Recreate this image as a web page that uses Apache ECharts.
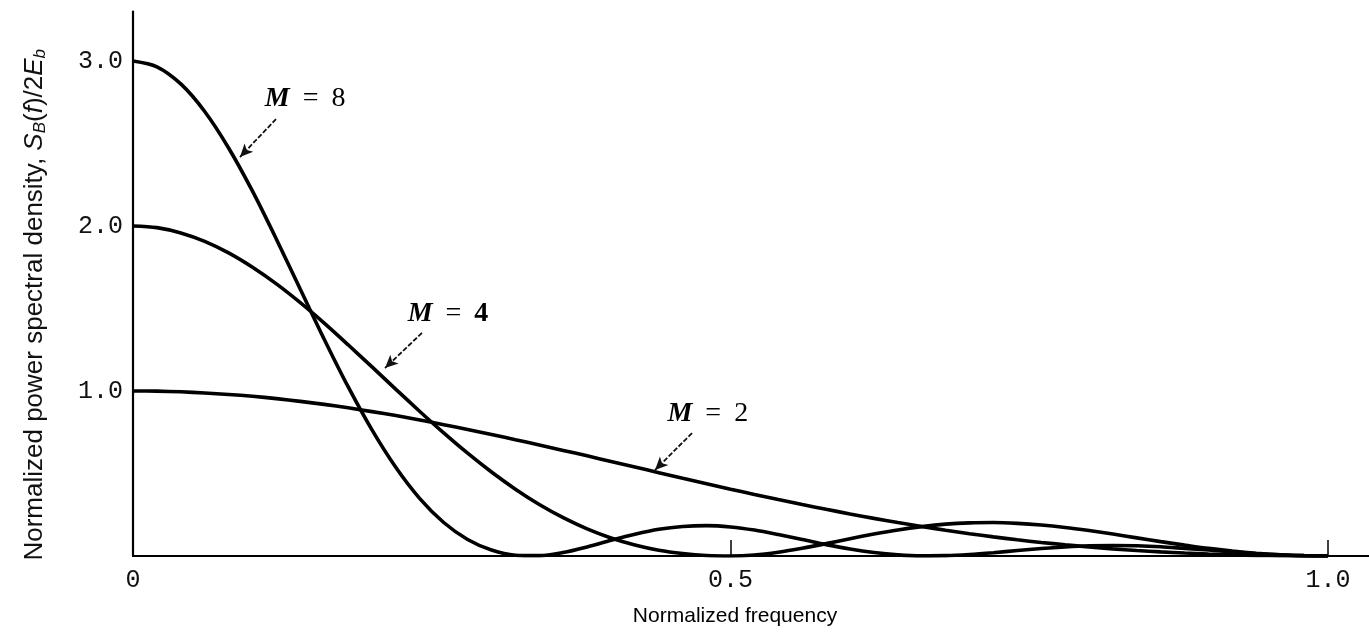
<!DOCTYPE html>
<html>
<head>
<meta charset="utf-8">
<script src="https://cdn.jsdelivr.net/npm/echarts@6/dist/echarts.min.js"></script>
<style>
  html, body { margin: 0; padding: 0; background: #fff; }
  #chart { width: 1369px; height: 635px; }
</style>
</head>
<body>
<div id="chart"></div>
<script>
// Normalized frequency samples
const freq = [0,0.02,0.04,0.06,0.08,0.10,0.12,0.14,0.16,0.18,0.20,0.22,0.24,0.26,0.28,0.30,0.32,0.34,0.36,0.38,0.40,0.42,0.44,0.46,0.48,0.50,0.52,0.54,0.56,0.58,0.60,0.62,0.64,0.66,0.68,0.70,0.72,0.74,0.76,0.78,0.80,0.82,0.84,0.86,0.88,0.90,0.92,0.94,0.96,0.98,1.00];

// M = 2
const psdM2 = [1.000,0.999,0.995,0.988,0.979,0.968,0.954,0.937,0.919,0.898,0.875,0.851,0.824,0.796,0.767,0.737,0.705,0.673,0.640,0.607,0.573,0.539,0.505,0.471,0.438,0.405,0.373,0.342,0.312,0.283,0.255,0.228,0.203,0.179,0.156,0.135,0.116,0.098,0.082,0.068,0.055,0.043,0.033,0.025,0.018,0.012,0.007,0.004,0.002,0.0004,0];

// M = 4
const psdM4 = [2.000,1.990,1.958,1.907,1.837,1.750,1.649,1.535,1.411,1.280,1.146,1.010,0.876,0.746,0.623,0.509,0.405,0.312,0.232,0.164,0.109,0.067,0.035,0.015,0.003,0.000,0.006,0.023,0.047,0.075,0.105,0.133,0.158,0.178,0.193,0.201,0.203,0.198,0.188,0.173,0.154,0.133,0.110,0.087,0.066,0.046,0.030,0.017,0.007,0.002,0];

// M = 8
const psdM8 = [3.000,2.965,2.861,2.694,2.473,2.211,1.920,1.617,1.314,1.026,0.764,0.536,0.348,0.203,0.100,0.036,0.005,0.002,0.021,0.055,0.095,0.132,0.162,0.179,0.184,0.176,0.157,0.130,0.100,0.069,0.042,0.021,0.007,0.001,0.002,0.009,0.020,0.033,0.045,0.055,0.062,0.064,0.062,0.056,0.046,0.036,0.024,0.014,0.007,0.002,0];

// Tick labels
const xTickLabels = { '0': '0', '0.5': '0.5', '1': '1.0' };
const yTickLabels = { '1': '1.0', '2': '2.0', '3': '3.0' };

// Curve labels: [label number, label position (x,y), arrow start (x,y), arrow tip (x,y)] in data units
const curveNotes = [
  ['8', [0.144, 2.77], [0.1197, 2.648], [0.0895, 2.418]],
  ['4', [0.2636, 1.467], [0.2418, 1.352], [0.2109, 1.139]],
  ['2', [0.481, 0.861], [0.4678, 0.745], [0.4368, 0.521]]
];

const pairs = arr => freq.map((f, i) => [f, arr[i]]);

const chart = echarts.init(document.getElementById('chart'), null, { renderer: 'canvas' });

const lineStyle = { color: '#000', width: 3.6 };

const noteRich = {
  m: { fontFamily: 'Liberation Serif', fontStyle: 'italic', fontWeight: 'bold', fontSize: 28, color: '#000' },
  e: { fontFamily: 'Liberation Serif', fontSize: 28, color: '#000', padding: [0, 13, 0, 13] },
  n: { fontFamily: 'Liberation Serif', fontSize: 28, color: '#000' },
  nb: { fontFamily: 'Liberation Serif', fontWeight: 'bold', fontSize: 28, color: '#000' }
};

const annotationSeries = {
  type: 'line',
  data: [],
  silent: true,
  markLine: {
    silent: true,
    symbol: ['none', 'arrow'],
    symbolSize: [9, 13],
    label: { show: false },
    lineStyle: { color: '#111', width: 1.8, type: [5, 2] },
    data: curveNotes.map(n => [{ coord: n[2] }, { coord: n[3] }])
  },
  markPoint: {
    silent: true,
    symbol: 'circle',
    symbolSize: 0,
    label: {
      show: true,
      position: 'inside',
      rich: noteRich
    },
    data: curveNotes.map(n => ({
      coord: n[1],
      label: { formatter: '{m|M}{e|=}' + (n[0] === '4' ? '{nb|' : '{n|') + n[0] + '}' }
    }))
  }
};

chart.setOption({
  animation: false,
  backgroundColor: '#fff',
  grid: { left: 133, right: 0, top: 11.5, bottom: 79, containLabel: false },
  xAxis: {
    type: 'value',
    min: 0,
    max: 1.0343,
    interval: 0.5,
    name: 'Normalized frequency',
    nameLocation: 'middle',
    nameGap: 50,
    nameTextStyle: { fontFamily: 'Liberation Sans', fontSize: 21, color: '#000', padding: [0, 32, 0, 0] },
    axisLine: { show: true, lineStyle: { color: '#000', width: 2.2 } },
    axisTick: { show: true, inside: true, length: 16, lineStyle: { color: '#000', width: 1.5 } },
    axisLabel: {
      showMaxLabel: false,
      margin: 12,
      fontFamily: 'Liberation Mono',
      fontSize: 25,
      color: '#111',
      formatter: v => xTickLabels[String(Math.round(v * 10) / 10)] || ''
    },
    splitLine: { show: false }
  },
  yAxis: {
    type: 'value',
    min: 0,
    max: 3.3,
    interval: 1,
    name: '{t|Normalized power spectral density, }{i|S}{s|B}{t|(}{i|f}{t|)/2}{i|E}{s|b}',
    nameLocation: 'middle',
    nameGap: 84,
    nameRotate: 90,
    nameTextStyle: {
      padding: [0, 42, 0, 0],
      rich: {
        t: { fontFamily: 'Liberation Sans', fontSize: 26, color: '#111' },
        i: { fontFamily: 'Liberation Sans', fontStyle: 'italic', fontSize: 26, color: '#111' },
        s: { fontFamily: 'Liberation Sans', fontStyle: 'italic', fontSize: 17, color: '#111', verticalAlign: 'bottom', padding: [12, 0, 0, 0] }
      }
    },
    axisLine: { show: true, lineStyle: { color: '#000', width: 2.2 } },
    axisTick: { show: false },
    axisLabel: {
      showMaxLabel: false,
      margin: 10,
      fontFamily: 'Liberation Mono',
      fontSize: 25,
      color: '#111',
      formatter: v => yTickLabels[String(Math.round(v))] || ''
    },
    splitLine: { show: false }
  },
  series: [
    { name: 'M = 2', type: 'line', data: pairs(psdM2), smooth: 0.3, symbol: 'none', lineStyle, clip: true },
    { name: 'M = 4', type: 'line', data: pairs(psdM4), smooth: 0.3, symbol: 'none', lineStyle, clip: true },
    { name: 'M = 8', type: 'line', data: pairs(psdM8), smooth: 0.3, symbol: 'none', lineStyle, clip: true },
    annotationSeries
  ]
});
</script>
</body>
</html>
